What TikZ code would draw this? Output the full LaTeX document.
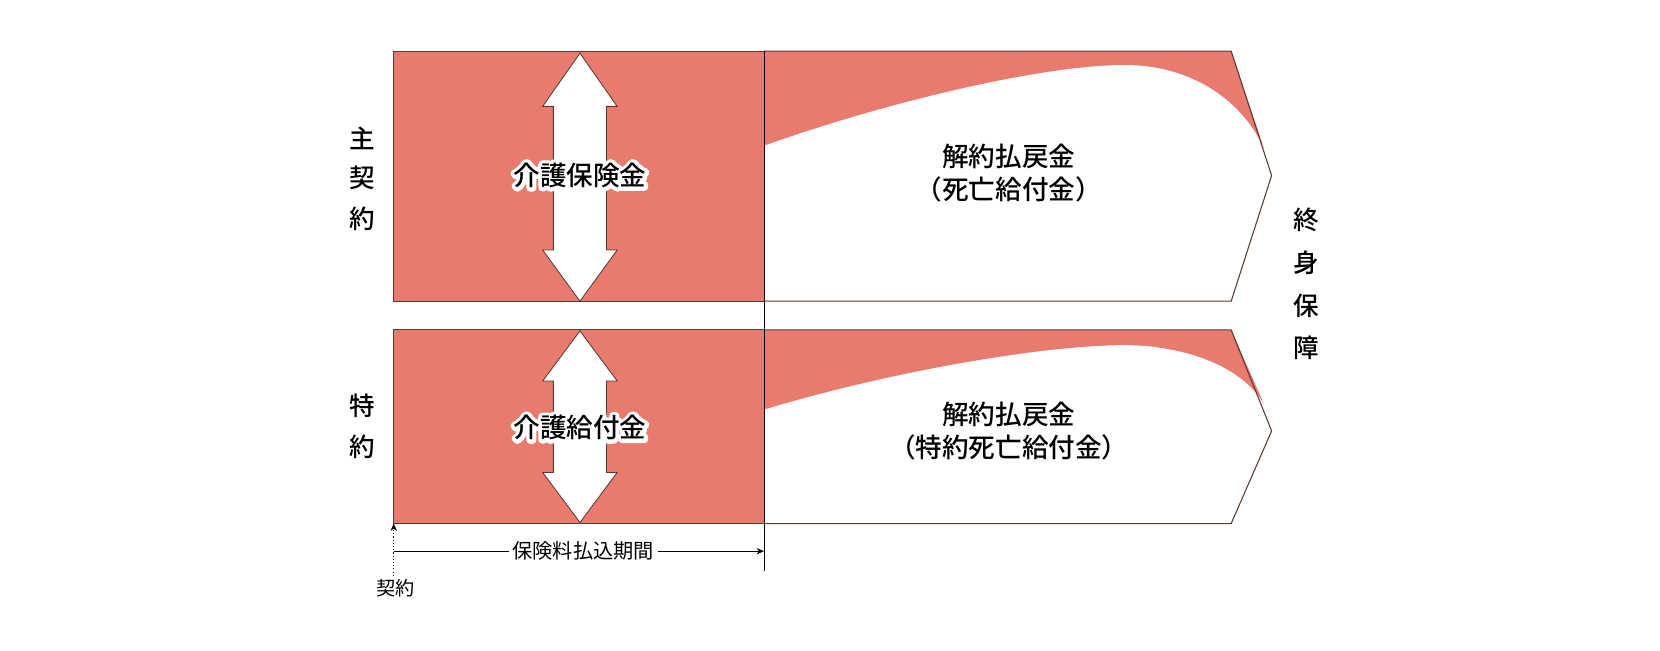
\documentclass[tikz,border=0pt]{standalone}
\usepackage{fontspec}
\setmainfont{Noto Sans CJK JP}
\newfontfamily\jpb{Noto Sans CJK JP Medium}
\usetikzlibrary{arrows.meta}
\definecolor{sal}{HTML}{E87A6E}
\definecolor{edge}{HTML}{5A3A33}
\tikzset{
  box/.style={fill=sal,draw=edge,line width=1pt},
  dbl/.style={fill=white,draw=edge,line width=0.8pt},
  lab/.style={font=\jpb\fontsize{25}{31}\selectfont,align=center,text=black},
  side/.style={font=\jpb\fontsize{24}{24}\selectfont,text=black},
}
\newcommand{\halo}[1]{\makebox[0pt][l]{\special{pdf:code q 2 Tr 7 w 1 j 1 J 1 1 1 RG 1 1 1 rg}#1\special{pdf:code Q}}#1}
\begin{document}
\begin{tikzpicture}[x=1pt,y=-1pt]
\useasboundingbox (0,0) rectangle (1560,611);
% top row
\draw[box] (370,48) rectangle (718,283);
\fill[sal] (718,48) -- (1157,48) -- (1188,140) -- (718,140) -- cycle;
\fill[white] (718,137) .. controls (850,90) and (1010,55) .. (1075,62) .. controls (1130,68) and (1170,100) .. (1188,140) -- (1195,165) -- (1157,283) -- (718,283) -- cycle;
\draw[edge,line width=1pt] (718,48) -- (1157,48) -- (1195,165) -- (1157,283) -- (718,283);
% bottom row
\draw[box] (370,310) rectangle (718,492);
\fill[sal] (718,310) -- (1157,310) -- (1188,380) -- (718,385) -- cycle;
\fill[white] (718,385) .. controls (850,345) and (1010,320) .. (1075,325) .. controls (1130,330) and (1170,350) .. (1188,380) -- (1195,405) -- (1157,492) -- (718,492) -- cycle;
\draw[edge,line width=1pt] (718,310) -- (1157,310) -- (1195,405) -- (1157,492) -- (718,492);
% divider
\coordinate (vt) at (718,48); \coordinate (vb) at (718,537);
\draw[black,line width=0.8pt] (vt) -- (vb);
% double arrows
\draw[dbl] (545,50) -- (580,100) -- (570,100) -- (570,235) -- (580,235) -- (545,283) -- (510,235) -- (520,235) -- (520,100) -- (510,100) -- cycle;
\draw[dbl] (545,311) -- (580,358) -- (570,358) -- (570,444) -- (580,444) -- (545,491) -- (510,444) -- (520,444) -- (520,358) -- (510,358) -- cycle;
\node[lab] (k1) at (545,165) {\halo{介護保険金}};
\node[lab] (k2) at (545,402) {\halo{介護給付金}};
% right labels
\node[lab] (r1) at (948,163) {解約払戻金\\（死亡給付金）};
\node[lab] (r2) at (948,405) {解約払戻金\\（特約死亡給付金）};
% side labels
\node[side] (s1) at (340,130) {主};
\node[side] (s2) at (340,167) {契};
\node[side] (s3) at (340,206) {約};
\node[side] (s4) at (340,381) {特};
\node[side] (s5) at (340,420) {約};
\node[side] (e1) at (1228,207) {終};
\node[side] (e2) at (1228,247) {身};
\node[side] (e3) at (1228,287) {保};
\node[side] (e4) at (1228,327) {障};
% period
\node[font=\fontsize{19}{22}\selectfont] (pp) at (548,518) {保険料払込期間};
\coordinate (ps) at (370,518); \coordinate (pe) at (718,518);
\draw[line width=0.8pt] (ps) -- (pp.west);
\draw[line width=0.8pt,-{Stealth[length=7pt,width=6pt]}] (pp.east) -- (pe);
\node[font=\fontsize{18}{20}\selectfont] (kk) at (372,553) {契約};
\coordinate (kt) at (370,492);
\draw[line width=1pt,dotted,-{Stealth[length=7pt,width=6pt]}] (kk.north -| kt) -- (kt);
\end{tikzpicture}
\end{document}
